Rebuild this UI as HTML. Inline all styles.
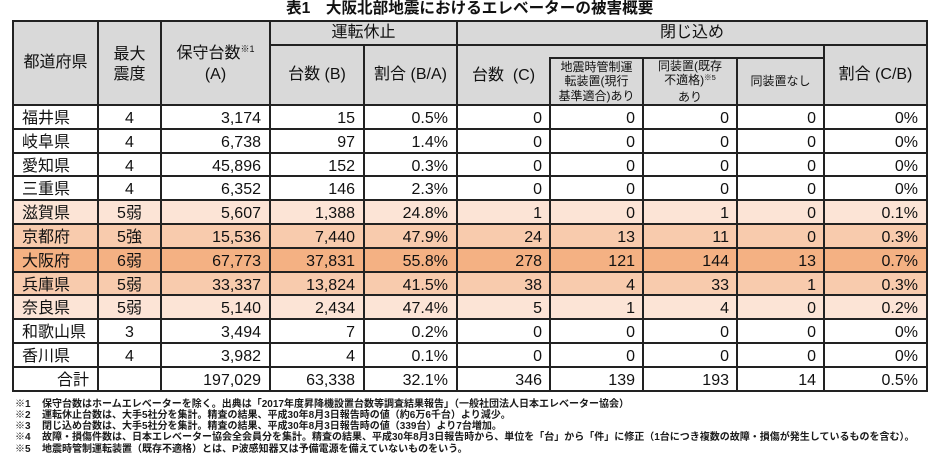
<!DOCTYPE html>
<html><head><meta charset="utf-8">
<style>
*{margin:0;padding:0}
html,body{width:940px;height:471px;overflow:hidden;background:#fff}
body{position:relative;font-family:"Liberation Sans","Noto Sans CJK JP",sans-serif;color:#111}
.title{position:absolute;left:286px;top:0;height:18px;line-height:18px;font-size:15.6px;font-weight:bold;white-space:nowrap}
.bg{position:absolute}
.hl{position:absolute;height:2px;background:#222}
.vl{position:absolute;width:2px;background:#222}
.h{position:absolute;display:flex;flex-direction:column;align-items:center;justify-content:center;font-size:16px;white-space:nowrap;text-align:center}
.h div{line-height:20px}
.s{position:absolute;display:flex;flex-direction:column;align-items:center;justify-content:center;font-size:12px;white-space:nowrap;text-align:center}
.s div{line-height:14.5px}
sup{font-size:9px;vertical-align:0;position:relative;top:-6px}
.s sup{font-size:7.5px;top:-4px}
.row{position:absolute;left:13px;width:914px;font-size:16px}
.row>div{position:absolute;top:1.5px;white-space:nowrap;box-sizing:border-box}
.row>div:nth-child(1){left:0;width:85px;padding-left:9px;text-align:left}
.row>div:nth-child(2){left:85px;width:63px;text-align:center}
.row>div:nth-child(3){left:148px;width:109px;text-align:right;padding-right:9px}
.row>div:nth-child(4){left:257px;width:94px;text-align:right;padding-right:9px}
.row>div:nth-child(5){left:351px;width:93px;text-align:right;padding-right:9px}
.row>div:nth-child(6){left:444px;width:93px;text-align:right;padding-right:8px}
.row>div:nth-child(7){left:537px;width:93px;text-align:right;padding-right:8px}
.row>div:nth-child(8){left:630px;width:94px;text-align:right;padding-right:8px}
.row>div:nth-child(9){left:724px;width:87px;text-align:right;padding-right:8px}
.row>div:nth-child(10){left:811px;width:103px;text-align:right;padding-right:9px}
.fn{position:absolute;left:0;width:940px;height:11.3px;line-height:11.3px;font-size:10px;font-weight:bold;color:#1a1a1a;white-space:nowrap}
.fn span{position:absolute;top:0}
.fn span:first-child{left:15px}
.fn span:last-child{left:42px}
</style></head><body>

<div class="title">表1　大阪北部地震におけるエレベーターの被害概要</div>

<!-- header background -->
<div class="bg" style="left:13px;top:21px;width:914px;height:84px;background:#d9d9d9"></div>

<!-- row backgrounds -->
<div class="bg" style="left:13px;top:200px;width:914px;height:24px;background:#fce4d6"></div>
<div class="bg" style="left:13px;top:224px;width:914px;height:24px;background:#f8cbad"></div>
<div class="bg" style="left:13px;top:248px;width:914px;height:24px;background:#f4b183"></div>
<div class="bg" style="left:13px;top:272px;width:914px;height:23px;background:#f8cbad"></div>
<div class="bg" style="left:13px;top:295px;width:914px;height:24px;background:#fce4d6"></div>

<!-- header text -->
<div class="h" style="left:13px;top:21px;width:85px;height:84px"><div>都道府県</div></div>
<div class="h" style="left:98px;top:24px;width:63px;height:81px"><div>最大</div><div>震度</div></div>
<div class="h" style="left:161px;top:24px;width:109px;height:81px"><div>保守台数<sup>※1</sup></div><div>(A)</div></div>
<div class="h" style="left:270px;top:21px;width:187px;height:24px"><div>運転休止</div></div>
<div class="h" style="left:270px;top:45px;width:94px;height:60px"><div>台数 (B)</div></div>
<div class="h" style="left:364px;top:45px;width:93px;height:60px"><div>割合 (B/A)</div></div>
<div class="h" style="left:457px;top:21px;width:470px;height:24px"><div>閉じ込め</div></div>
<div class="h" style="left:457px;top:46px;width:93px;height:60px"><div>台数&nbsp;&nbsp;(C)</div></div>
<div class="s" style="left:550px;top:58px;width:93px;height:47px"><div>地震時管制運</div><div>転装置(現行</div><div>基準適合)あり</div></div>
<div class="s" style="left:643px;top:58px;width:94px;height:47px"><div>同装置(既存</div><div>不適格)<sup>※5</sup></div><div>あり</div></div>
<div class="s" style="left:737px;top:58px;width:87px;height:47px"><div>同装置なし</div></div>
<div class="h" style="left:824px;top:45px;width:103px;height:60px"><div>割合 (C/B)</div></div>

<!-- data rows -->
<div class="row" style="top:105px;height:24px;line-height:24px"><div>福井県</div><div>4</div><div>3,174</div><div>15</div><div>0.5%</div><div>0</div><div>0</div><div>0</div><div>0</div><div>0%</div></div>
<div class="row" style="top:129px;height:24px;line-height:24px"><div>岐阜県</div><div>4</div><div>6,738</div><div>97</div><div>1.4%</div><div>0</div><div>0</div><div>0</div><div>0</div><div>0%</div></div>
<div class="row" style="top:153px;height:23px;line-height:23px"><div>愛知県</div><div>4</div><div>45,896</div><div>152</div><div>0.3%</div><div>0</div><div>0</div><div>0</div><div>0</div><div>0%</div></div>
<div class="row" style="top:176px;height:24px;line-height:24px"><div>三重県</div><div>4</div><div>6,352</div><div>146</div><div>2.3%</div><div>0</div><div>0</div><div>0</div><div>0</div><div>0%</div></div>
<div class="row" style="top:200px;height:24px;line-height:24px"><div>滋賀県</div><div>5弱</div><div>5,607</div><div>1,388</div><div>24.8%</div><div>1</div><div>0</div><div>1</div><div>0</div><div>0.1%</div></div>
<div class="row" style="top:224px;height:24px;line-height:24px"><div>京都府</div><div>5強</div><div>15,536</div><div>7,440</div><div>47.9%</div><div>24</div><div>13</div><div>11</div><div>0</div><div>0.3%</div></div>
<div class="row" style="top:248px;height:24px;line-height:24px"><div>大阪府</div><div>6弱</div><div>67,773</div><div>37,831</div><div>55.8%</div><div>278</div><div>121</div><div>144</div><div>13</div><div>0.7%</div></div>
<div class="row" style="top:272px;height:23px;line-height:23px"><div>兵庫県</div><div>5弱</div><div>33,337</div><div>13,824</div><div>41.5%</div><div>38</div><div>4</div><div>33</div><div>1</div><div>0.3%</div></div>
<div class="row" style="top:295px;height:24px;line-height:24px"><div>奈良県</div><div>5弱</div><div>5,140</div><div>2,434</div><div>47.4%</div><div>5</div><div>1</div><div>4</div><div>0</div><div>0.2%</div></div>
<div class="row" style="top:319px;height:24px;line-height:24px"><div>和歌山県</div><div>3</div><div>3,494</div><div>7</div><div>0.2%</div><div>0</div><div>0</div><div>0</div><div>0</div><div>0%</div></div>
<div class="row" style="top:343px;height:24px;line-height:24px"><div>香川県</div><div>4</div><div>3,982</div><div>4</div><div>0.1%</div><div>0</div><div>0</div><div>0</div><div>0</div><div>0%</div></div>
<div class="row" style="top:367px;height:24px;line-height:24px"><div style="text-align:right;padding-left:0;padding-right:9px">合計</div><div></div><div>197,029</div><div>63,338</div><div>32.1%</div><div>346</div><div>139</div><div>193</div><div>14</div><div>0.5%</div></div>

<!-- horizontal lines -->
<div class="hl" style="left:12px;top:20px;width:916px"></div>
<div class="hl" style="left:269px;top:44px;width:659px"></div>
<div class="hl" style="left:549px;top:57px;width:276px"></div>
<div class="hl" style="left:12px;top:104px;width:916px"></div>
<div class="hl" style="left:12px;top:128px;width:916px"></div>
<div class="hl" style="left:12px;top:152px;width:916px"></div>
<div class="hl" style="left:12px;top:175px;width:916px"></div>
<div class="hl" style="left:12px;top:199px;width:916px"></div>
<div class="hl" style="left:12px;top:223px;width:916px"></div>
<div class="hl" style="left:12px;top:247px;width:916px"></div>
<div class="hl" style="left:12px;top:271px;width:916px"></div>
<div class="hl" style="left:12px;top:294px;width:916px"></div>
<div class="hl" style="left:12px;top:318px;width:916px"></div>
<div class="hl" style="left:12px;top:342px;width:916px"></div>
<div class="hl" style="left:12px;top:366px;width:916px"></div>
<div class="hl" style="left:12px;top:390px;width:916px"></div>

<!-- vertical lines -->
<div class="vl" style="left:12px;top:20px;height:372px"></div>
<div class="vl" style="left:97px;top:20px;height:372px"></div>
<div class="vl" style="left:160px;top:20px;height:372px"></div>
<div class="vl" style="left:269px;top:20px;height:372px"></div>
<div class="vl" style="left:363px;top:44px;height:348px"></div>
<div class="vl" style="left:456px;top:20px;height:372px"></div>
<div class="vl" style="left:549px;top:57px;height:335px"></div>
<div class="vl" style="left:642px;top:57px;height:335px"></div>
<div class="vl" style="left:736px;top:57px;height:335px"></div>
<div class="vl" style="left:823px;top:44px;height:348px"></div>
<div class="vl" style="left:926px;top:20px;height:372px"></div>

<!-- footnotes -->
<div class="fn" style="top:398.5px"><span>※1</span><span>保守台数はホームエレベーターを除く。出典は「2017年度昇降機設置台数等調査結果報告」（一般社団法人日本エレベーター協会）</span></div>
<div class="fn" style="top:409.8px"><span>※2</span><span>運転休止台数は、大手5社分を集計。精査の結果、平成30年8月3日報告時の値（約6万6千台）より減少。</span></div>
<div class="fn" style="top:421.1px"><span>※3</span><span>閉じ込め台数は、大手5社分を集計。精査の結果、平成30年8月3日報告時の値（339台）より7台増加。</span></div>
<div class="fn" style="top:432.4px"><span>※4</span><span>故障・損傷件数は、日本エレベーター協会全会員分を集計。精査の結果、平成30年8月3日報告時から、単位を「台」から「件」に修正（1台につき複数の故障・損傷が発生しているものを含む）。</span></div>
<div class="fn" style="top:443.7px"><span>※5</span><span>地震時管制運転装置（既存不適格）とは、P波感知器又は予備電源を備えていないものをいう。</span></div>

</body></html>
